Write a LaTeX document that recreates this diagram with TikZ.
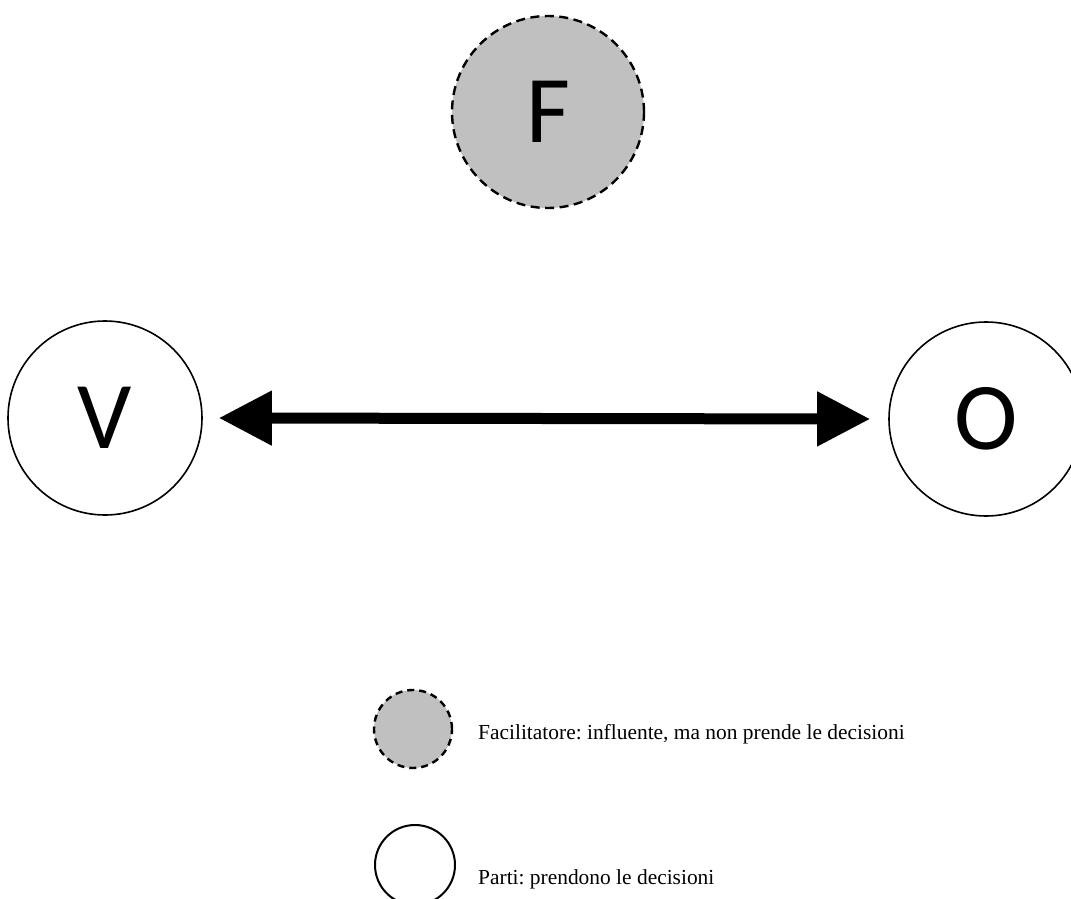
\documentclass[tikz,border=0pt]{standalone}
\usepackage{fontspec}
\setmainfont{Liberation Serif}
\newfontfamily\letterfont{Carlito}
\usetikzlibrary{arrows.meta}

\definecolor{facgrey}{HTML}{C0C0C0}

\tikzset{
  party/.style={circle, draw=black, line width=1.6bp, fill=white,
    minimum size=194bp, inner sep=0pt,
    font=\letterfont\fontsize{96}{96}\selectfont},
  facil/.style={circle, draw=black, line width=2.4bp, fill=facgrey,
    dash pattern=on 9bp off 5.5bp, minimum size=192bp, inner sep=0pt,
    font=\letterfont\fontsize{96}{96}\selectfont},
  legfacil/.style={circle, draw=black, line width=2.4bp, fill=facgrey,
    dash pattern=on 7bp off 5bp, minimum size=78bp, inner sep=0pt},
  legparty/.style={circle, draw=black, line width=2bp, fill=white,
    minimum size=80bp, inner sep=0pt},
  legtext/.style={anchor=base west, inner sep=0pt,
    font=\frenchspacing\fontsize{21.5}{24}\selectfont},
  bigarrow/.style={line width=11bp,
    {Triangle[length=53bp,width=52bp]}-{Triangle[length=53bp,width=52bp]}}
}

\begin{document}
\begin{tikzpicture}[x=1bp,y=-1bp]
  \useasboundingbox (0,0) rectangle (1071,899);
  \clip (0,0) rectangle (1071,899);

  % the two parties and the facilitator
  \node[facil] (F) at (548,112) {F};
  \node[party] (V) at (105,418) {V};
  \node[party] (O) at (986,419) {O};

  % negotiation between the parties
  \draw[bigarrow] ([xshift=16bp]V.east) -- ([xshift=-18bp]O.west);

  % legend
  \node[legfacil] (LF) at (413,729) {};
  \node[legtext] (LFt) at (478,739) {Facilitatore: influente, ma non prende le decisioni};
  \node[legparty] (LP) at (415,865) {};
  \node[legtext] (LPt) at (478,884) {Parti: prendono le decisioni};
\end{tikzpicture}
\end{document}
